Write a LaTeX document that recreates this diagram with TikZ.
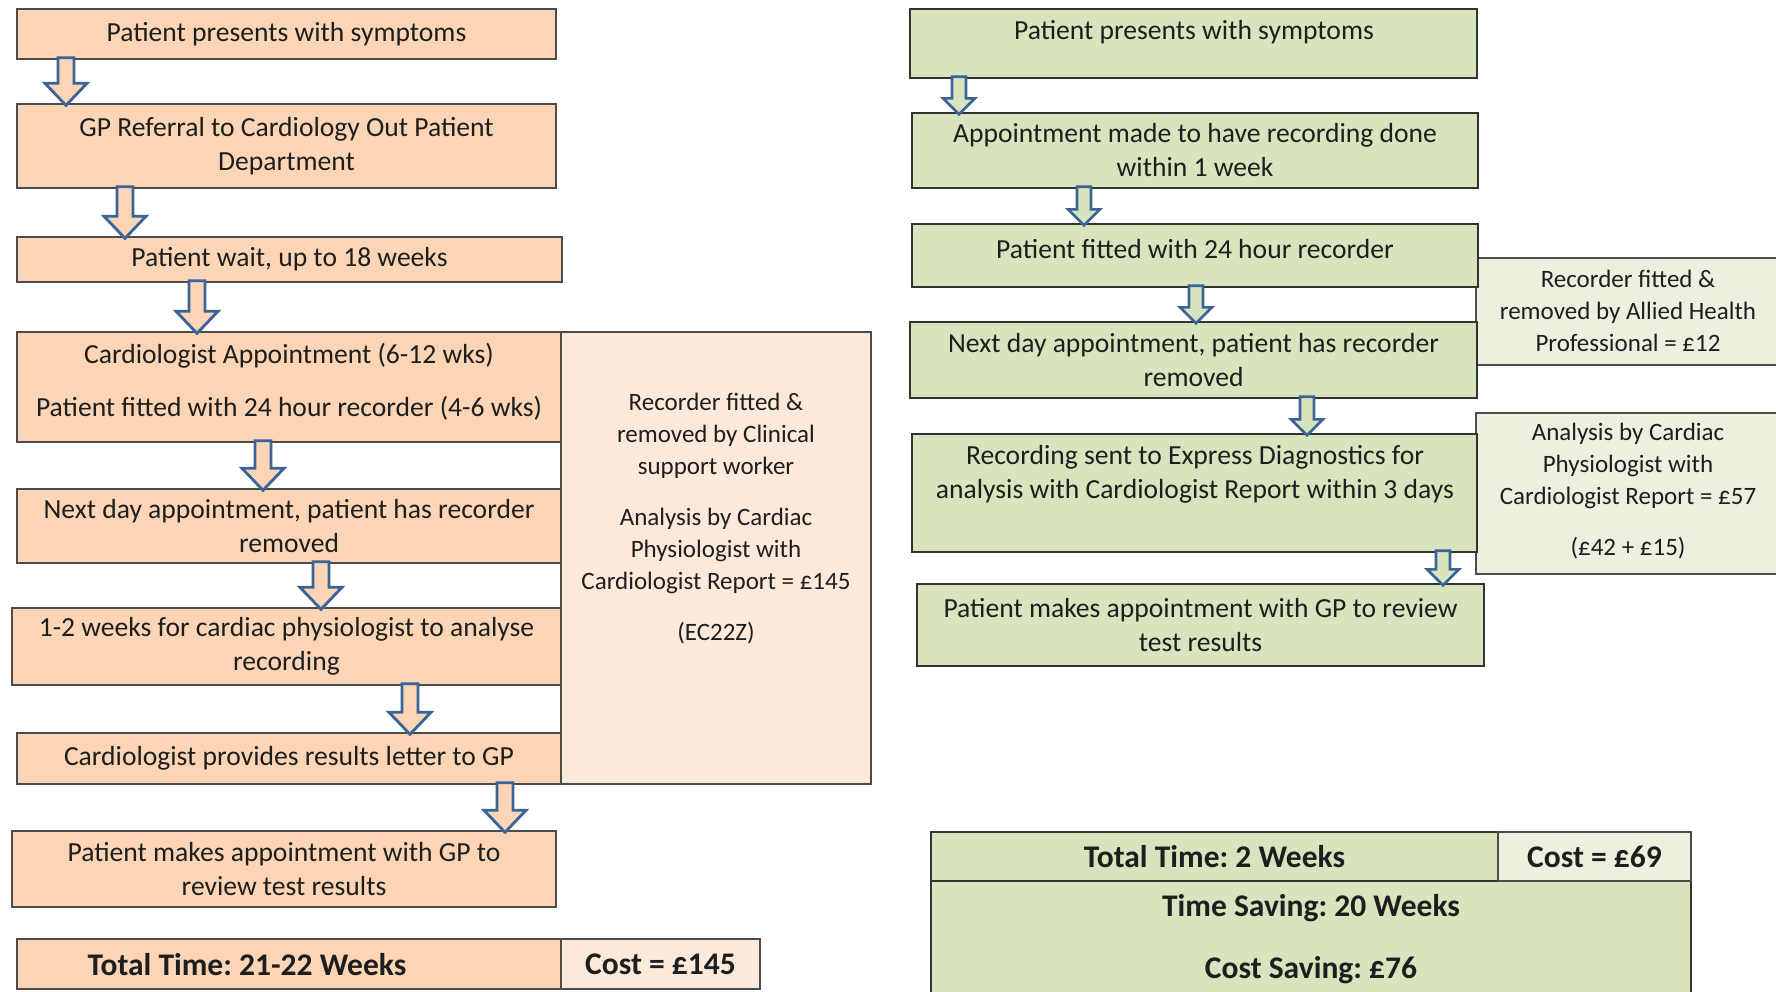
\documentclass[tikz,border=0pt]{standalone}
\usepackage{fontspec}
\setmainfont{Carlito}
\usetikzlibrary{calc}
\frenchspacing
\definecolor{orng}{HTML}{FBD5B5}
\definecolor{lorng}{HTML}{FDE9D9}
\definecolor{grn}{HTML}{D7E4BD}
\definecolor{lgrn}{HTML}{EBF1DE}
\definecolor{arrblue}{HTML}{3A6498}
\definecolor{txtc}{HTML}{1E1E1E}
\newcommand\mainsz{\fontsize{27.6}{34}\selectfont}
\newcommand\sidesz{\fontsize{25}{32}\selectfont}
\newcommand\boldsz{\fontsize{31.5}{34}\selectfont\bfseries}
% box from corners: name, style, x1, y1, x2, y2
\newcommand\bx[6]{\node[#2, minimum width={(#5-#3)*1pt}, minimum height={(#6-#4)*1pt}] (#1) at ({(#3+#5)/2},{(#4+#6)/2})}
% block arrow: style, from node, to node, x, shaft half width, head half width, head length
\newcommand\darrow[7]{\draw[#1] let \p1=(#2.south), \p2=(#3.north) in
  ({(#4-#5)*1pt},{\y1+2pt}) -- ({(#4+#5)*1pt},{\y1+2pt}) -- ({(#4+#5)*1pt},{\y2+#7pt}) --
  ({(#4+#6)*1pt},{\y2+#7pt}) -- ({#4*1pt},{\y2-2pt}) -- ({(#4-#6)*1pt},{\y2+#7pt}) --
  ({(#4-#5)*1pt},{\y2+#7pt}) -- cycle;}
\tikzset{
  box/.style={draw=black!70, line width=1.4pt, inner sep=0pt, align=center, text=txtc, font=\mainsz},
  obox/.style={box, fill=orng},
  lobox/.style={box, fill=lorng, font=\sidesz},
  gbox/.style={box, fill=grn, draw=black!80},
  lgbox/.style={box, fill=lgrn, draw=black!70, font=\sidesz},
  txt/.style={inner sep=0pt, align=center, text=txtc, font=\mainsz},
  stxt/.style={txt, font=\sidesz},
  btxt/.style={txt, font=\boldsz},
  oarrow/.style={draw=arrblue, fill=orng, line width=2.8pt, line join=miter},
  garrow/.style={draw=arrblue, fill=grn, line width=2.6pt, line join=miter}
}
\begin{document}
\begin{tikzpicture}[x=1pt, y=-1pt]
\useasboundingbox[fill=white] (0,0) rectangle (1776,991);
% ---------- left column ----------
\bx{lside}{lobox}{561}{332}{871}{784} {};
\bx{l1}{obox}{17}{9}{556}{59} {Patient presents with symptoms};
\bx{l2}{obox}{17}{104}{556}{188} {GP Referral to Cardiology Out Patient\\Department};
\bx{l3}{obox}{17}{237}{562}{282} {Patient wait, up to 18 weeks};
\bx{l4}{obox}{17}{332}{561}{442} {};
\bx{l5}{obox}{17}{489}{561}{563} {Next day appointment, patient has recorder\\removed};
\bx{l6}{obox}{12}{608}{561}{685} {1-2 weeks for cardiac physiologist to analyse\\recording};
\bx{l7}{obox}{17}{733}{561}{784} {Cardiologist provides results letter to GP};
\bx{l8}{obox}{12}{831}{556}{907} {Patient makes appointment with GP to\\review test results};
\bx{ltot}{obox}{17}{939}{561}{989} {};
\bx{lcost}{lobox}{561}{939}{760}{989} {\boldsz Cost = £145};
\node[txt] (l4t) at (289,382) {Cardiologist Appointment (6-12 wks)\\[19pt]Patient fitted with 24 hour recorder (4-6 wks)};
\node[stxt] (lsidet) at (716,519) {Recorder fitted \&\\removed by Clinical\\support worker\\[19pt]Analysis by Cardiac\\Physiologist with\\Cardiologist Report = £145\\[19pt](EC22Z)};
\node[btxt] (ltott) at (247,965) {Total Time: 21-22 Weeks};
\darrow{oarrow}{l1}{l2}{66}{8}{21}{20}
\darrow{oarrow}{l2}{l3}{125}{8}{21}{20}
\darrow{oarrow}{l3}{l4}{197}{8}{21}{20}
\darrow{oarrow}{l4}{l5}{263}{8}{21}{20}
\darrow{oarrow}{l5}{l6}{321}{8}{21}{20}
\darrow{oarrow}{l6}{l7}{410}{8}{21}{20}
\darrow{oarrow}{l7}{l8}{505}{8}{21}{20}
% ---------- right column ----------
\bx{rsa}{lgbox}{1476}{258}{1790}{365} {};
\bx{rsb}{lgbox}{1476}{413}{1790}{574} {};
\bx{r1}{gbox}{910}{9}{1477}{78} {};
\bx{r2}{gbox}{912}{113}{1478}{188} {Appointment made to have recording done\\within 1 week};
\bx{r3}{gbox}{912}{224}{1478}{287} {};
\bx{r4}{gbox}{910}{322}{1477}{398} {Next day appointment, patient has recorder\\removed};
\bx{r5}{gbox}{912}{434}{1477}{552} {};
\bx{r6}{gbox}{917}{584}{1484}{666} {Patient makes appointment with GP to review\\test results};
\bx{rsav}{gbox}{931}{881}{1691}{1000} {};
\bx{rtot}{gbox}{931}{832}{1498}{881} {\boldsz Total Time: 2 Weeks};
\bx{rcost}{lgbox}{1498}{832}{1691}{881} {\boldsz Cost = £69};
\node[txt] (r1t) at (1194,32) {Patient presents with symptoms};
\node[txt] (r3t) at (1195,249) {Patient fitted with 24 hour recorder};
\node[txt] (r5t) at (1195,474) {Recording sent to Express Diagnostics for\\analysis with Cardiologist Report within 3 days};
\node[stxt] (rsat) at (1628,311) {Recorder fitted \&\\removed by Allied Health\\Professional = £12};
\node[stxt] (rsbt) at (1628,491) {Analysis by Cardiac\\Physiologist with\\Cardiologist Report = £57\\[19pt](£42 + £15)};
\node[btxt] (rsav1) at (1311,908) {Time Saving: 20 Weeks};
\node[btxt] (rsav2) at (1311,970) {Cost Saving: £76};
\darrow{garrow}{r1}{r2}{959}{7}{16}{14}
\darrow{garrow}{r2}{r3}{1084}{7}{16}{14}
\darrow{garrow}{r3}{r4}{1196}{7}{16}{14}
\darrow{garrow}{r4}{r5}{1307}{7}{16}{14}
\darrow{garrow}{r5}{r6}{1443}{7}{16}{14}
\end{tikzpicture}
\end{document}
